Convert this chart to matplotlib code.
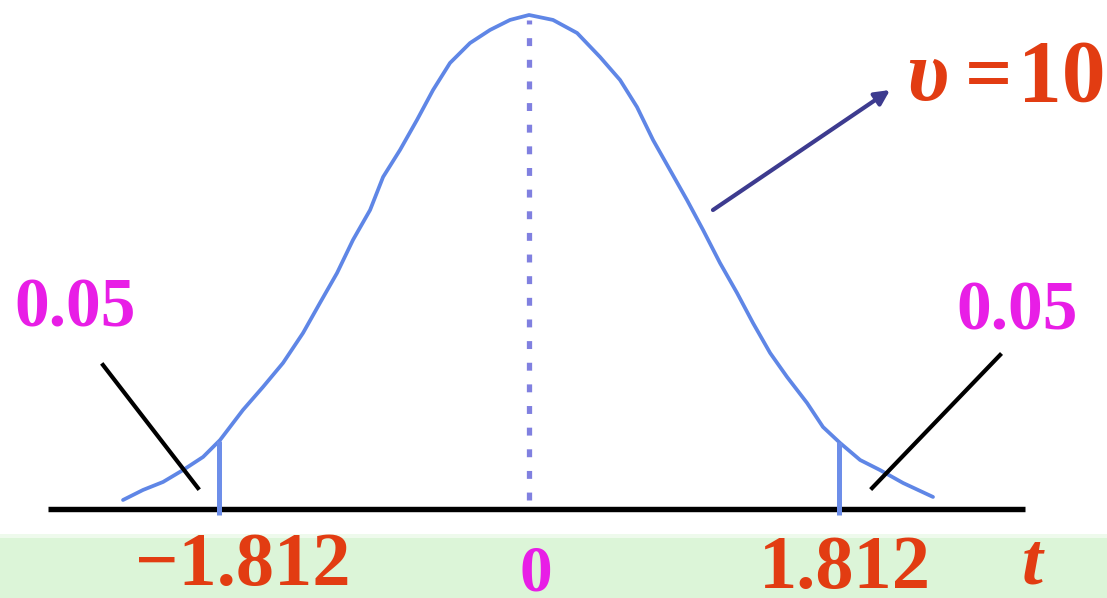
import numpy as np
import matplotlib
matplotlib.use("Agg")
import matplotlib.pyplot as plt

# Student t density (nu = 10), sampled along the drawn bell curve
curve_t = [-2.373, -2.256, -2.139, -2.022, -1.905, -1.806, -1.672, -1.555,
           -1.438, -1.321, -1.222, -1.122, -1.029, -0.929, -0.853, -0.754,
           -0.655, -0.561, -0.462, -0.345, -0.228, -0.111, 0.0,
           0.140, 0.281, 0.415, 0.532, 0.631, 0.725, 0.824, 0.923, 1.017,
           1.116, 1.216, 1.309, 1.409, 1.508, 1.625, 1.718, 1.818, 1.935,
           2.051, 2.186, 2.361]
curve_density = [0.0071, 0.0150, 0.0213, 0.0307, 0.0410, 0.0543, 0.0780, 0.0961,
                 0.1150, 0.1386, 0.1623, 0.1859, 0.2119, 0.2355, 0.2615, 0.2828,
                 0.3064, 0.3300, 0.3513, 0.3670, 0.3773, 0.3852, 0.3891,
                 0.3852, 0.3749, 0.3560, 0.3379, 0.3166, 0.2906, 0.2670, 0.2434,
                 0.2198, 0.1938, 0.1701, 0.1465, 0.1229, 0.1040, 0.0835, 0.0646,
                 0.0520, 0.0386, 0.0307, 0.0205, 0.0095]

critical_values = [-1.812, 1.812]
critical_labels = ["\u22121.812", "1.812"]
tail_area_labels = ["0.05", "0.05"]
dof_label = "10"

RED = "#e23c12"
MAGENTA = "#e81ee6"
CURVE_BLUE = "#5f86e6"
LINE_BLUE = "#6d8ee9"
DOT_BLUE = "#8080e0"
ARROW_NAVY = "#3d3b8f"
BAND_GREEN = "#dcf5d8"
SERIF = ["Liberation Serif", "DejaVu Serif"]

fig = plt.figure(figsize=(11.07, 5.98), dpi=100)
ax = fig.add_axes([0, 0, 1, 1])
ax.set_xlim(-3.092, 3.378)
ax.set_ylim(-0.0701, 0.4009)
ax.axis("off")

# pale green strip under the axis labels
ax.axhspan(-0.0701, -0.0228, color=BAND_GREEN, lw=0, zorder=0)
ax.axhspan(-0.0228, -0.0195, color="#eefaec", lw=0, zorder=0)

# horizontal t axis
ax.plot([-2.811, 2.899], [0, 0], color="black", lw=3.9, solid_capstyle="butt", zorder=2)

# density curve
ax.plot(curve_t, curve_density, color=CURVE_BLUE, lw=2.7, zorder=3,
        solid_joinstyle="round", solid_capstyle="round")

# dotted line at the centre
peak = max(curve_density)
ax.plot([0, 0], [0.007, peak - 0.004], color=DOT_BLUE, lw=3.8,
        ls=(0, (1.5, 2.6)), dash_capstyle="butt", zorder=2)

# critical values
for cv in critical_values:
    top = np.interp(cv, curve_t, curve_density)
    ax.plot([cv, cv], [-0.005, top], color=LINE_BLUE, lw=3.6,
            solid_capstyle="butt", zorder=3)

# tick labels under the axis
ax.text(-1.046, -0.0602, critical_labels[0], color=RED, fontsize=55,
        fontweight="bold", family=SERIF, ha="right", va="baseline")
ax.text(1.847, -0.0624, critical_labels[1], color=RED, fontsize=55,
        fontweight="bold", family=SERIF, ha="center", va="baseline")
ax.text(0.04, -0.0645, "0", color=MAGENTA, fontsize=47,
        fontweight="bold", family=SERIF, ha="center", va="baseline")
ax.text(2.94, -0.0590, "t", color=RED, fontsize=54, fontweight="bold",
        fontstyle="italic", family=SERIF, ha="center", va="baseline")

# tail-area labels with leader lines
ax.text(-2.653, 0.1575, tail_area_labels[0], color=MAGENTA, fontsize=50,
        fontweight="bold", family=SERIF, ha="center", va="center")
ax.text(2.852, 0.1545, tail_area_labels[1], color=MAGENTA, fontsize=50,
        fontweight="bold", family=SERIF, ha="center", va="center")
ax.plot([-2.490, -1.935], [0.1134, 0.0165], color="black", lw=3.0, zorder=4)
ax.plot([2.753, 2.005], [0.1213, 0.0165], color="black", lw=3.0, zorder=4)

# degrees-of-freedom callout
ax.annotate("", xy=(2.110, 0.330), xytext=(1.075, 0.2355),
            arrowprops=dict(arrowstyle="-|>", color=ARROW_NAVY, lw=3.0,
                            mutation_scale=22, shrinkA=0, shrinkB=0))
ax.text(2.326, 0.322, "\u03c5", color=RED, fontsize=62, fontweight="bold",
        fontstyle="italic", family=SERIF, ha="center", va="baseline")
ax.text(2.689, 0.322, "=", color=RED, fontsize=60, fontweight="bold",
        family=SERIF, ha="center", va="baseline")
ax.text(3.115, 0.322, dof_label, color=RED, fontsize=63, fontweight="bold",
        family=SERIF, ha="center", va="baseline")

fig.savefig("out.png", dpi=100)
